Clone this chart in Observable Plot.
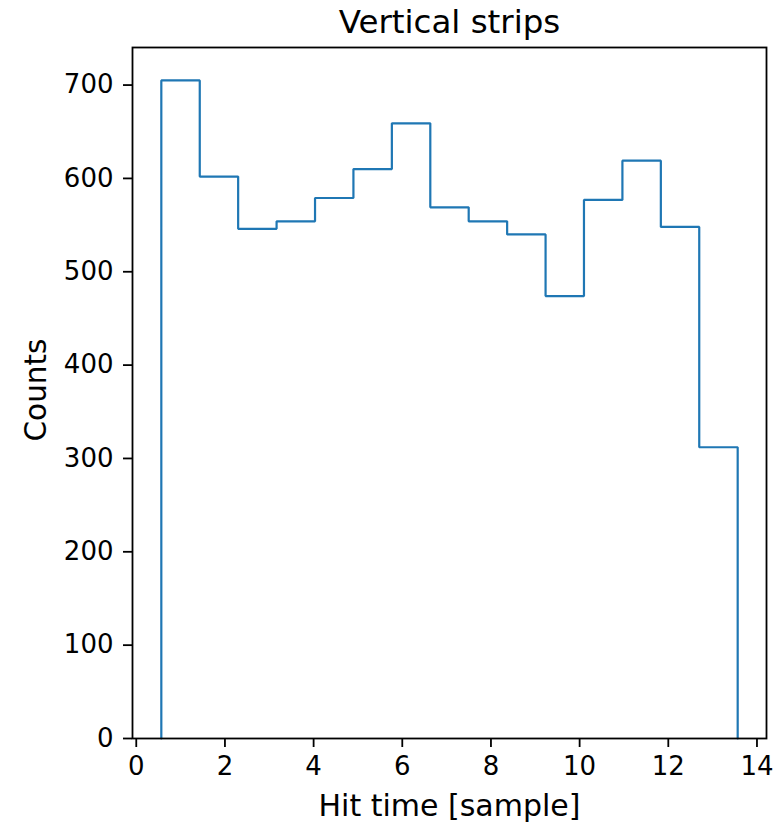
<!DOCTYPE html>
<html>
<head>
<meta charset="utf-8">
<script src="https://cdn.jsdelivr.net/npm/d3@7"></script>
<script src="https://cdn.jsdelivr.net/npm/@observablehq/plot@0.6"></script>
<style>
  html, body { margin: 0; padding: 0; background: #fff; }
  #chart svg { display: block; }
</style>
</head>
<body>
<div id="chart"></div>
<script>
// Bin edges of the histogram (Hit time [sample])
const binEdges = [0.565, 1.432, 2.298, 3.165, 4.032, 4.898, 5.765, 6.632, 7.498, 8.365, 9.232, 10.098, 10.965, 11.832, 12.698, 13.565];
// Counts per bin
const counts = [705, 602, 546, 554, 579, 610, 659, 569, 554, 540, 474, 577, 619, 548, 312];
// Tick labels
const xTicks = [0, 2, 4, 6, 8, 10, 12, 14];
const yTicks = [0, 100, 200, 300, 400, 500, 600, 700];
const titleText = "Vertical strips";
const xLabel = "Hit time [sample]";
const yLabel = "Counts";

// Step outline vertices (matplotlib histtype="step")
const outline = [{x: binEdges[0], y: 0}];
counts.forEach((c, i) => {
  outline.push({x: binEdges[i], y: c});
  outline.push({x: binEdges[i + 1], y: c});
});
outline.push({x: binEdges[binEdges.length - 1], y: 0});

const lo = binEdges[0], hi = binEdges[binEdges.length - 1];
const pad = 0.05 * (hi - lo);
const yMax = d3.max(counts) * 1.05;

const chart = Plot.plot({
  width: 779,
  height: 826,
  marginLeft: 132,
  marginRight: 13,
  marginTop: 47,
  marginBottom: 88,
  style: {fontFamily: "DejaVu Sans", color: "black", background: "white", overflow: "visible"},
  x: {domain: [lo - pad, hi + pad]},
  y: {domain: [0, yMax]},
  marks: [
    Plot.line(outline, {x: "x", y: "y", stroke: "#1f77b4", strokeWidth: 2.2, strokeLinejoin: "miter"}),
    Plot.frame({stroke: "black", strokeWidth: 1.8}),
    Plot.axisX({ticks: xTicks, tickSize: 9, tickPadding: 9, fontSize: 26, label: null, strokeWidth: 1.8, tickFormat: d => String(d)}),
    Plot.axisY({ticks: yTicks, tickSize: 9, tickPadding: 10, fontSize: 26, label: null, strokeWidth: 1.8, tickFormat: d => String(d)}),
    Plot.text([titleText], {frameAnchor: "top", text: d => d, textAnchor: "middle", lineAnchor: "bottom", dy: -15, fontSize: 32.5, fill: "black"}),
    Plot.text([xLabel], {frameAnchor: "bottom", text: d => d, textAnchor: "middle", lineAnchor: "bottom", dy: 77, fontSize: 30, fill: "black"}),
    Plot.text([yLabel], {frameAnchor: "left", text: d => d, textAnchor: "middle", lineAnchor: "bottom", rotate: -90, dx: -87, dy: -3, fontSize: 29.5, fill: "black"})
  ]
});
document.getElementById("chart").appendChild(chart);
</script>
</body>
</html>
